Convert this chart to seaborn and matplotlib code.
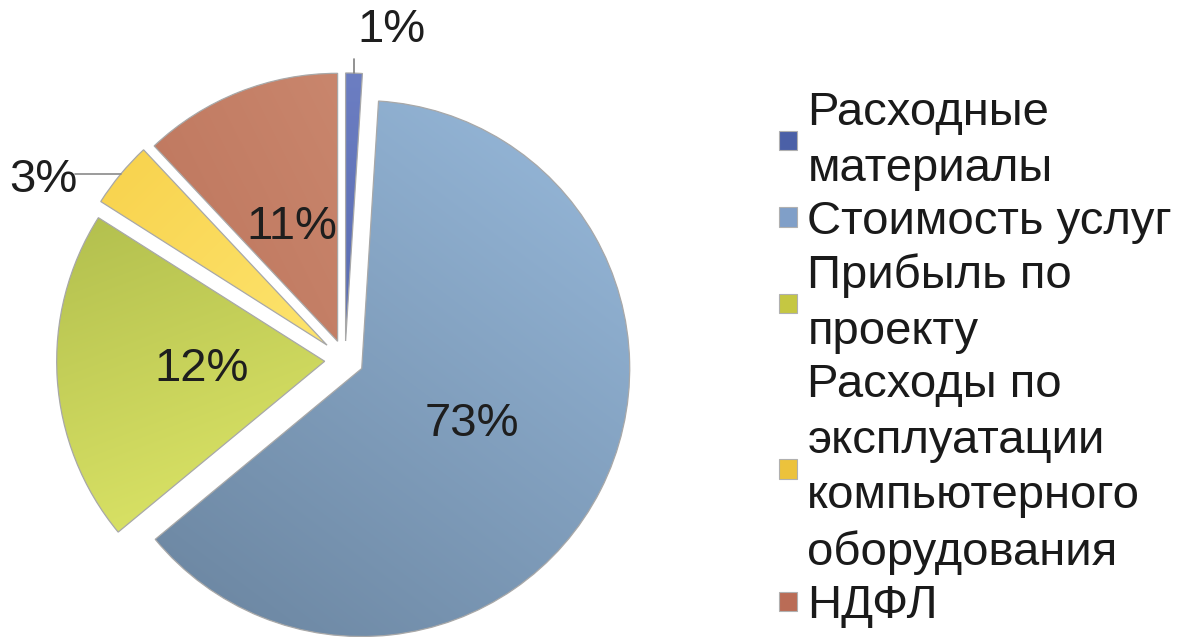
import numpy as np
import matplotlib
matplotlib.use("Agg")
import matplotlib.pyplot as plt
import matplotlib.patches as mpatches
from matplotlib.colors import to_rgb
import seaborn as sns

sns.set_style("white")
plt.rcParams['font.family'] = ['Liberation Sans', 'DejaVu Sans']

# data
names = ["Расходные\nматериалы", "Стоимость услуг", "Прибыль по\nпроекту",
         "Расходы по\nэксплуатации\nкомпьютерного\nоборудования", "НДФЛ"]
shares = [1, 63, 20, 4, 12]            # slice sizes as drawn
shown = ["1%", "73%", "12%", "3%", "11%"]  # labels as printed on the chart

explode = [0.071, 0.07, 0.076, 0.087, 0.075]
grad = [("#586bb2", "#6c7ec2"),
        ("#6a849f", "#98badc"),
        ("#b2bf4e", "#e0e869"),
        ("#f8d24c", "#fde46e"),
        ("#bd755c", "#c9866d")]
grad_dir = [(0, 1), (0.6, 0.8), (0.35, -0.94), (0.5, -0.5), (0.6, 0.3)]
legend_cols = ["#4b60a7", "#809fc8", "#c5c742", "#ecc23c", "#ba6c56"]

fig = plt.figure(figsize=(11.81, 6.37), dpi=100)
ax = fig.add_axes([0, 0, 1, 1])

lab = iter(shown)
wedges, texts, autotexts = ax.pie(
    shares, explode=explode, startangle=90, counterclock=False,
    autopct=lambda p: next(lab), pctdistance=0.46,
    wedgeprops=dict(facecolor="none", edgecolor="#a8a8a8", linewidth=0.9, zorder=3),
    textprops=dict(fontsize=34, color="#1e1e1e"))

# gradient fills clipped to each wedge
for w, (c0, c1), d in zip(wedges, grad, grad_dir):
    bb = w.get_path().get_extents()
    xs = np.linspace(bb.x0, bb.x1, 120)
    ys = np.linspace(bb.y0, bb.y1, 120)
    X, Y = np.meshgrid(xs, ys)
    d = np.array(d) / np.hypot(*d)
    t = X * d[0] + Y * d[1]
    t = (t - t.min()) / (t.max() - t.min())
    a, b = np.array(to_rgb(c0)), np.array(to_rgb(c1))
    img = a[None, None, :] * (1 - t[..., None]) + b[None, None, :] * t[..., None]
    im = ax.imshow(img, extent=[bb.x0, bb.x1, bb.y0, bb.y1], origin="lower",
                   aspect="auto", interpolation="bilinear", zorder=2)
    im.set_clip_path(w)

for t in autotexts:
    t.set_zorder(5)

# callout labels for the two thin slices
def outer_mid(w):
    th = np.deg2rad((w.theta1 + w.theta2) / 2)
    cx, cy = w.center
    return cx + w.r * np.cos(th), cy + w.r * np.sin(th)

x0, y0 = outer_mid(wedges[0])
autotexts[0].set_position((0.175, 1.231))
ax.plot([x0, x0], [y0, y0 + 0.053], color="#7f7f7f", lw=1.2, zorder=4)

x3, y3 = outer_mid(wedges[3])
autotexts[3].set_position((-1.127, 0.672))
ax.plot([x3, -1.007], [y3, y3], color="#8a8a8a", lw=1.2, zorder=4)

handles = [mpatches.Patch(facecolor=c, edgecolor="#b0b0b0", linewidth=0.8) for c in legend_cols]
leg = fig.legend(handles, names, loc="upper left", bbox_to_anchor=(779 / 1181, 1 - 91 / 637),
                 frameon=False, fontsize=34, borderpad=0, borderaxespad=0,
                 handlelength=0.38, handleheight=0.25, handletextpad=0.22,
                 labelspacing=0.2, labelcolor="#1a1a1a")
for t in leg.get_texts():
    t.set_linespacing(1.34)

ax.set_xlim(-345 / 268, (1181 - 345) / 268)
ax.set_ylim(-277 / 268, 360 / 268)
ax.set_aspect("auto")
ax.axis("off")

fig.savefig("out.png", dpi=100)
